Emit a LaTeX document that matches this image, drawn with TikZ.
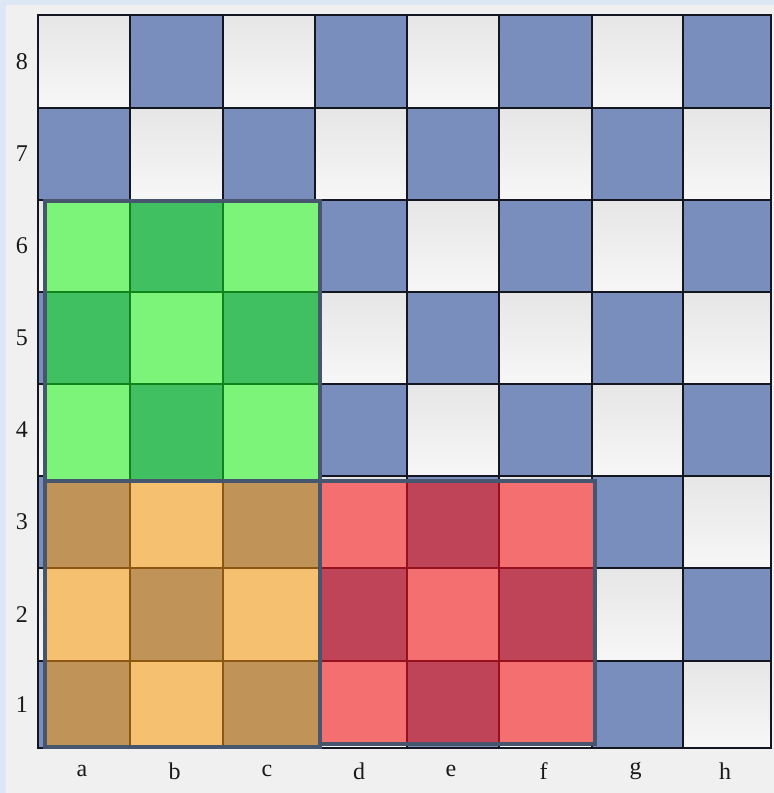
\documentclass[tikz,border=0pt]{standalone}
\usepackage{fontspec}
\setmainfont{Liberation Serif}
\usepackage{tikz}
\usepackage{xcolor}
\definecolor{framesky}{RGB}{220,230,244}
\definecolor{paneltint}{RGB}{240,240,240}
\definecolor{boardblue}{RGB}{122,142,190}
\definecolor{boardlightA}{RGB}{230,230,230}
\definecolor{boardlightB}{RGB}{247,247,247}
\definecolor{gridline}{RGB}{20,22,34}
\definecolor{zoneedge}{RGB}{70,86,110}
\definecolor{greenlight}{RGB}{124,244,122}
\definecolor{greendark}{RGB}{64,192,96}
\definecolor{greenline}{RGB}{18,130,28}
\definecolor{orangelight}{RGB}{245,192,112}
\definecolor{orangedark}{RGB}{192,147,88}
\definecolor{orangeline}{RGB}{140,88,16}
\definecolor{redlight}{RGB}{244,112,112}
\definecolor{reddark}{RGB}{192,68,88}
\definecolor{redline}{RGB}{150,16,30}

\begin{document}
\begin{tikzpicture}[x=1pt,y=-1pt,line join=miter,
  coordlabel/.style={font=\fontsize{24}{24}\selectfont,text=black!90,inner sep=0pt},
  zonecell/.style={line width=1.6pt},
  zoneframe/.style={zoneedge,line width=3.6pt}]
\useasboundingbox (0,0) rectangle (774,793);
\fill[framesky] (0,0) rectangle (774,793);
\fill[paneltint] (6,5) rectangle (774,793);
% board
\foreach \xa/\xb [count=\i] in {38/130,130/223,223/315,315/407,407/499,499/592,592/683,683/771}
  \foreach \ya/\yb [count=\j] in {661/748,568/661,476/568,384/476,292/384,200/292,108/200,15/108}{
    \pgfmathtruncatemacro\sqshade{mod(\i+\j,2)}
    \ifnum\sqshade=0
      \fill[boardblue] (\xa,\ya) rectangle (\xb,\yb);
    \else
      \shade[top color=boardlightA,bottom color=boardlightB] (\xa,\ya) rectangle (\xb,\yb);
    \fi
    \draw[gridline,line width=1.2pt] (\xa,\ya) rectangle (\xb,\yb);
  }
\draw[gridline,line width=2pt] (38,15) rectangle (771,748);
% green zone a4-c6
\foreach \xa/\xb [count=\i] in {45/130,130/223,223/320}
  \foreach \ya/\yb [count=\j] in {384/481,292/384,201/292}{
    \pgfmathtruncatemacro\sqshade{mod(\i+\j+3,2)}
    \ifnum\sqshade=0 \def\zonefill{greendark}\else\def\zonefill{greenlight}\fi
    \filldraw[zonecell,fill=\zonefill,draw=greenline] (\xa,\ya) rectangle (\xb,\yb);
  }
% orange zone a1-c3
\foreach \xa/\xb [count=\i] in {45/130,130/223,223/320}
  \foreach \ya/\yb [count=\j] in {661/747,568/661,481/568}{
    \pgfmathtruncatemacro\sqshade{mod(\i+\j,2)}
    \ifnum\sqshade=0 \def\zonefill{orangedark}\else\def\zonefill{orangelight}\fi
    \filldraw[zonecell,fill=\zonefill,draw=orangeline] (\xa,\ya) rectangle (\xb,\yb);
  }
% red zone d1-f3
\foreach \xa/\xb [count=\i] in {320/407,407/499,499/595}
  \foreach \ya/\yb [count=\j] in {661/744,568/661,481/568}{
    \pgfmathtruncatemacro\sqshade{mod(\i+\j+3,2)}
    \ifnum\sqshade=0 \def\zonefill{reddark}\else\def\zonefill{redlight}\fi
    \filldraw[zonecell,fill=\zonefill,draw=redline] (\xa,\ya) rectangle (\xb,\yb);
  }
\draw[zoneframe] (45,201) rectangle (320,481);
\draw[zoneframe] (45,481) rectangle (320,747);
\draw[zoneframe] (320,481) rectangle (595,744);
% coordinates
\foreach \ya/\yb [count=\j] in {661/748,568/661,476/568,384/476,292/384,200/292,108/200,15/108}
  \node[coordlabel] (rank\j) at (22,{(\ya+\yb)/2}) {\j};
\foreach \xa/\xb/\f in {38/130/a,130/223/b,223/315/c,315/407/d,407/499/e,499/592/f,592/683/g,683/771/h}
  \node[coordlabel] (file\f) at ({(\xa+\xb)/2-2},771) {\f};
\end{tikzpicture}
\end{document}
